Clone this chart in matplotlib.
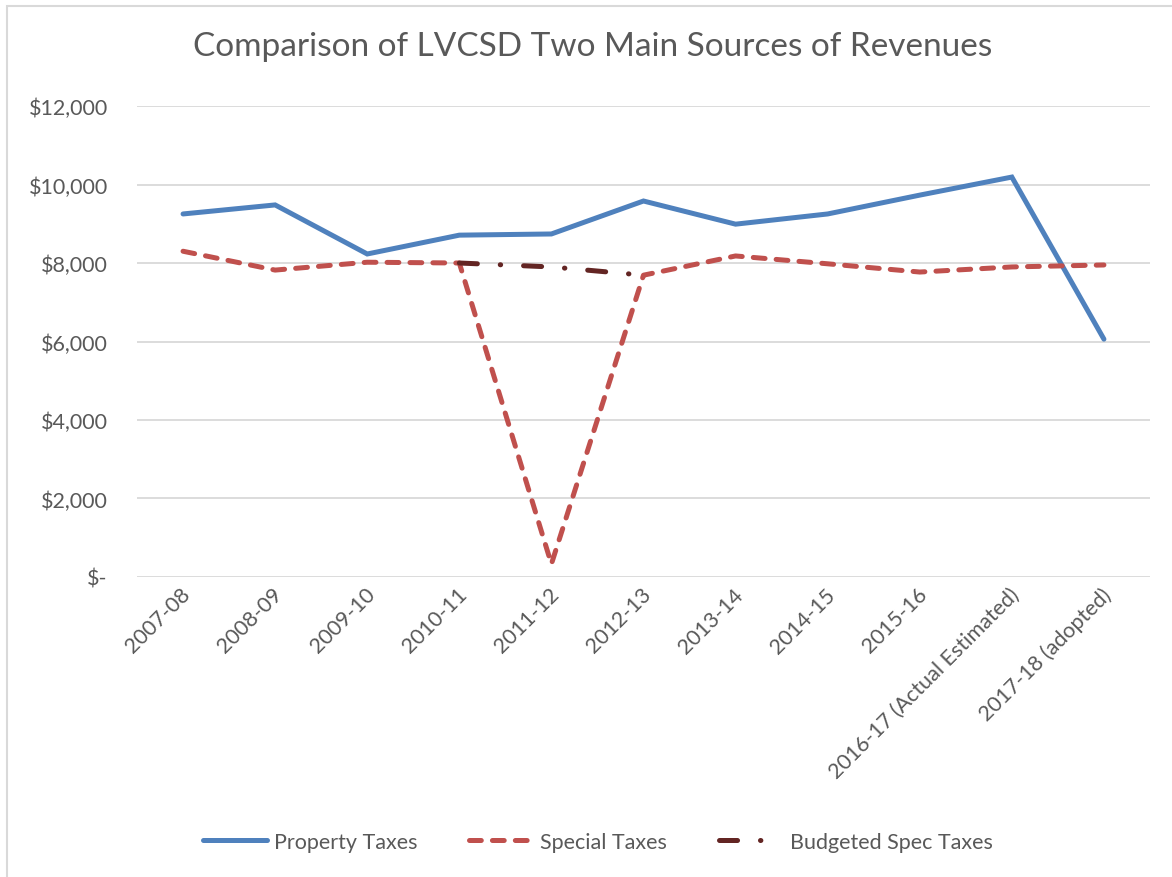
import matplotlib.pyplot as plt
import matplotlib.patches as patches
from matplotlib.ticker import FuncFormatter
import matplotlib.transforms as mtransforms
import numpy as np

plt.rcParams["font.family"] = ["Lato", "DejaVu Sans"]
plt.rcParams["lines.scale_dashes"] = False

years = ["2007-08", "2008-09", "2009-10", "2010-11", "2011-12", "2012-13",
         "2013-14", "2014-15", "2015-16", "2016-17 (Actual Estimated)",
         "2017-18 (adopted)"]
property_taxes = [9250, 9480, 8230, 8710, 8740, 9580, 8990, 9250, 9730, 10190, 6060]
special_taxes = [8300, 7820, 8020, 8000, 330, 7690, 8180, 7980, 7770, 7900, 7950]
budgeted_idx = [3, 4, 5]
budgeted_spec = [8000, 7900, 7690]

grey = "#595959"

fig = plt.figure(figsize=(11.72, 8.78), dpi=100)
ax = fig.add_axes([0.1169, 0.3417, 0.8643, 0.5364])

x = np.arange(len(years))
ax.plot(x, property_taxes, color="#4F81BD", lw=3.6, solid_capstyle="round",
        solid_joinstyle="miter", label="Property Taxes", zorder=3)
ax.plot(x, special_taxes, color="#C0504D", lw=3.6, dashes=(8.5, 8.0),
        dash_capstyle="round", label="Special Taxes", zorder=4)
ax.plot(budgeted_idx, budgeted_spec, color="#632523", lw=3.6,
        dashes=(13, 16.5, 0.3, 16.5), dash_capstyle="round",
        label="Budgeted Spec Taxes", zorder=5)

ax.set_xlim(-0.5, len(years) - 0.5)
ax.set_ylim(0, 12000)
ax.set_yticks(np.arange(0, 12001, 2000))
ax.yaxis.set_major_formatter(FuncFormatter(
    lambda v, p: "$-" if v == 0 else f"${v:,.0f}"))
ax.grid(axis="y", color="#D9D9D9", lw=1.3)
ax.set_axisbelow(True)
for s in ax.spines.values():
    s.set_visible(False)
ax.tick_params(axis="y", length=0, pad=21, labelsize=15.5, labelcolor=grey)
ax.tick_params(axis="x", length=0, pad=5, labelsize=15.5, labelcolor=grey)
ax.set_xticks(x)
ax.set_xticklabels(years, rotation=45, ha="right", va="top",
                   rotation_mode="anchor")
# nudge rotated labels a bit left, like Excel
offset = mtransforms.ScaledTranslation(-2 / 72, 0, fig.dpi_scale_trans)
for lab in ax.get_xticklabels():
    lab.set_transform(lab.get_transform() + offset)

fig.text(0.506, 0.947, "Comparison of LVCSD Two Main Sources of Revenues",
         ha="center", va="center", fontsize=24, color=grey)

leg = fig.legend(loc="center", bbox_to_anchor=(0.51, 0.04), ncol=3,
                 frameon=False, fontsize=15.5, handlelength=3.0,
                 handletextpad=0.3, columnspacing=2.4)
for t in leg.get_texts():
    t.set_color(grey)

fig.patches.append(patches.Rectangle((7 / 1172, -0.1), 1.2, 1 - 7 / 878 + 0.1,
                                     transform=fig.transFigure, fill=False,
                                     edgecolor="#D9D9D9", lw=1.5))

fig.savefig("out.png", dpi=100)
